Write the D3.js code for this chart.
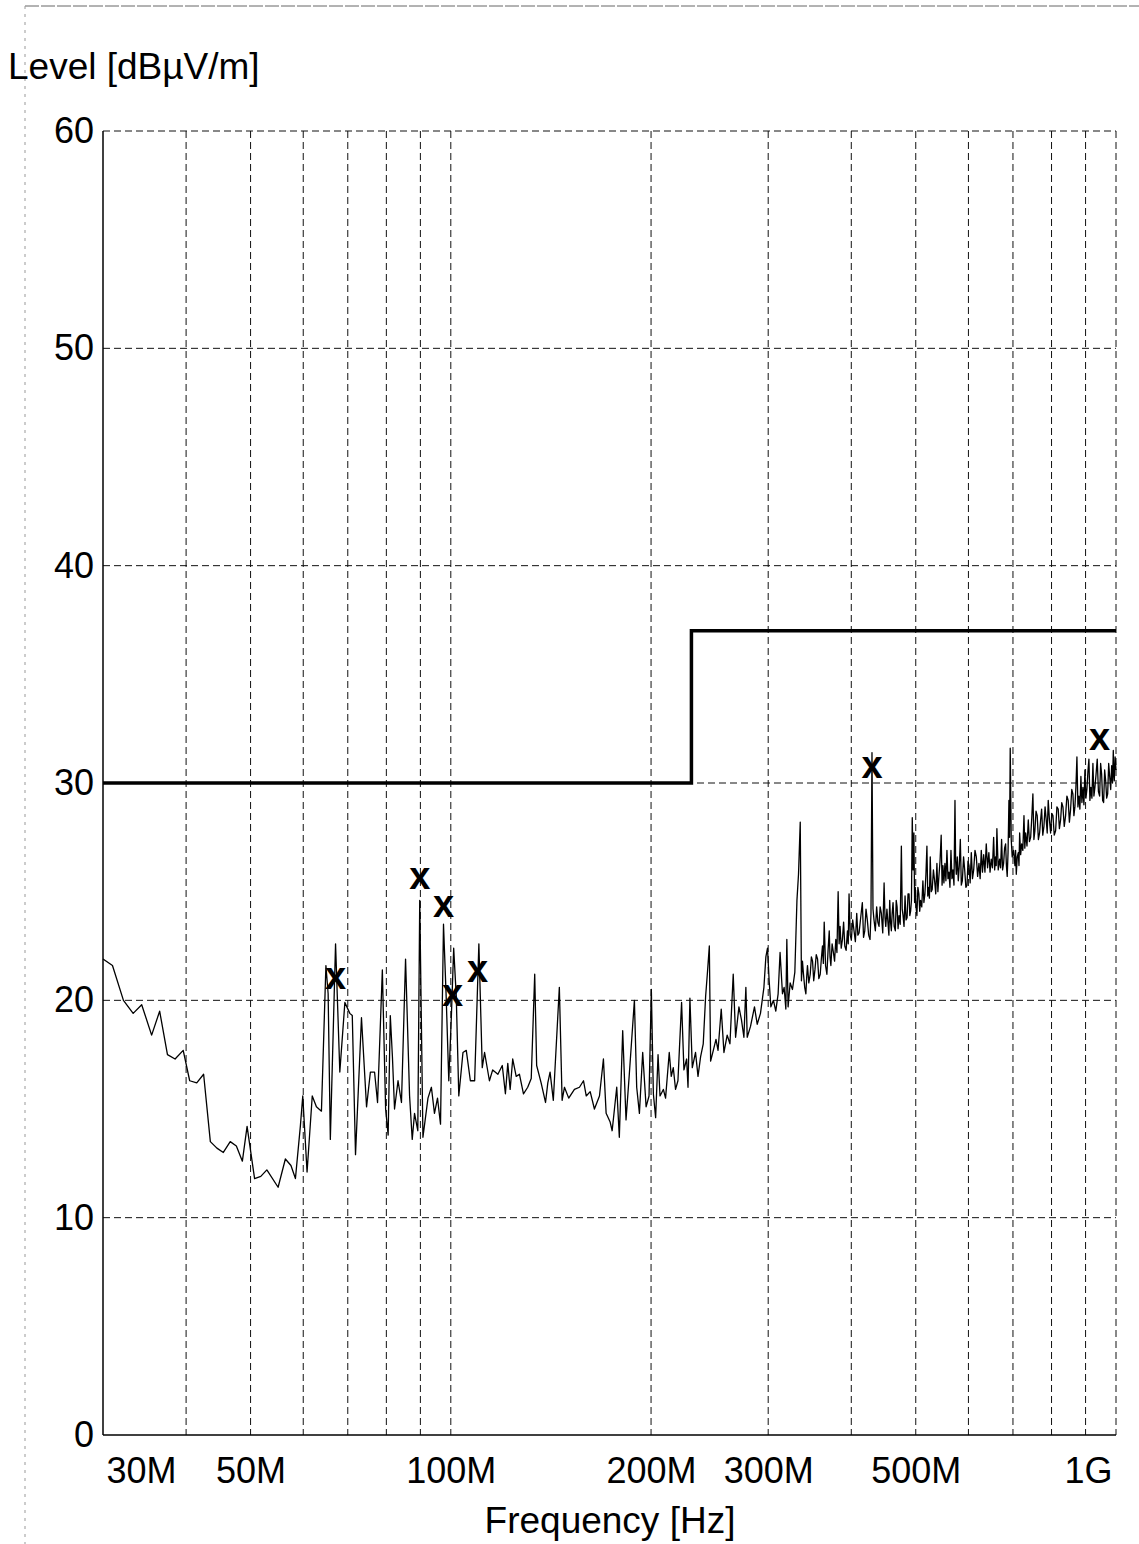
<!DOCTYPE html>
<html lang="en">
<head>
<meta charset="UTF-8">
<title>Level vs Frequency</title>
<script src="https://d3js.org/d3.v7.min.js"></script>
<style>
  body { margin: 0; background: #fff; }
  text { font-family: "Liberation Sans", Arial, Helvetica, sans-serif; fill: #000; }
  .grid line { stroke: #111; stroke-width: 1; stroke-dasharray: 7,4; }
</style>
</head>
<body>
<svg width="1139" height="1544"></svg>
<script>
const width = 1139, height = 1544;
const plot = {left: 103, right: 1116, top: 131, bottom: 1435};

// scan trace: [frequency in MHz, level in dBuV/m]
const scan30to120 = [
  [30,21.9],[31,21.6],[32.2,20.0],[33.3,19.4],[34.3,19.8],[35.5,18.4],[36.5,19.5],[37.5,17.5],[38.5,17.3],[39.6,17.7],
  [40.5,16.3],[41.5,16.2],[42.5,16.6],[43.5,13.5],[44.5,13.2],[45.5,13.0],[46.6,13.5],[47.6,13.3],[48.6,12.6],[49.4,14.2],
  [50.7,11.8],[51.8,11.9],[52.9,12.2],[55.0,11.4],[56.4,12.7],[57.5,12.4],[58.4,11.8],[59.4,14.2],[59.9,15.6],[60.8,12.1],
  [61.9,15.6],[62.8,15.1],[63.9,14.9],[64.9,21.6],[65.4,20.3],[65.9,13.6],[67.1,22.6],[68.1,16.7],[69.3,19.9],[70.5,19.4],
  [71.1,19.3],[71.9,12.9],[73.4,19.2],[74.7,15.1],[75.7,16.7],[76.8,16.7],[77.6,15.3],[78.9,21.4],[79.8,15.0],[80.5,13.8],
  [81.1,19.3],[81.7,17.4],[82.3,15.0],[83.3,16.3],[84.3,15.3],[85.5,21.9],[86.7,15.6],[87.5,13.6],[88.2,14.8],[89.2,14.0],
  [89.8,24.6],[90.8,13.7],[92.4,15.5],[93.5,16.0],[94.5,14.8],[95.5,15.5],[96.5,14.3],[97.5,23.5],[98.4,20.2],[99.3,16.3],
  [100.2,19.3],[101.0,22.4],[101.9,20.2],[102.8,15.6],[104.3,17.6],[105.5,17.7],[107.0,16.3],[108.6,16.3],[110.2,22.6],[111.5,16.9],
  [112.4,17.6],[114.3,16.3],[115.6,16.8],[117.7,16.6],[119.5,17.0]
];
const scan120to300 = [
  [120.8,15.7],[121.8,17.1],[122.8,15.9],[123.9,17.3],[125.4,16.5],[126.8,16.6],[128.6,15.7],[130.5,16.0],[132.1,16.4],[133.7,21.2],
  [134.6,17.0],[136.7,16.2],[138.8,15.3],[139.9,16.2],[141.0,16.7],[142.6,15.4],[145.6,20.6],[147.0,15.4],[148.2,16.0],[150.4,15.5],
  [153.4,15.9],[156.1,16.0],[158.3,16.3],[159.8,15.6],[162.0,15.8],[164.4,15.0],[167.3,15.6],[169.6,17.3],[171.2,14.8],[173.6,14.4],
  [174.8,14.0],[176.2,15.0],[177.6,16.0],[179.2,13.7],[181.3,18.6],[183.4,14.5],[185.5,16.6],[188.8,20.0],[190.3,16.0],[192.1,14.8],
  [194.3,17.6],[196.6,15.1],[198.6,15.6],[200.2,20.5],[201.6,15.7],[203.2,14.6],[204.9,17.5],[206.3,15.6],[208.7,15.9],[210.3,15.5],
  [213.0,17.6],[214.5,16.5],[216.0,16.9],[217.7,15.9],[219.5,16.3],[222.3,19.9],[224.1,16.8],[226.2,17.3],[227.3,16.0],[228.8,20.1],
  [230.7,16.9],[233.3,17.6],[235.3,16.5],[237.4,17.4],[239.6,18.0],[241.6,20.2],[243.0,21.2],[244.7,22.5],[245.8,17.2],[248.1,17.7],
  [250.4,18.2],[252.2,17.7],[255.0,19.6],[257.4,17.6],[260.3,18.4],[262.8,18.0],[265.8,21.2],[268.0,18.3],[271.1,19.7],[273.5,19.1],
  [275.8,18.3],[277.7,20.6],[279.0,18.3],[282.2,18.8],[286.1,19.7],[288.8,18.9],[292.1,19.4],[295.6,20.6],[297.6,22.0],[299.3,22.4]
];
const scan300to440 = [
  [301.0,20.9],[302.8,19.7],[305.5,20.0],[308.0,19.5],[310.5,20.3],[312.6,22.2],[315.2,20.3],[317.0,20.6],[318.9,19.6],[320.0,22.8],
  [321.4,19.7],[323.7,20.8],[326.3,20.5],[329.0,21.3],[331.4,24.6],[333.2,25.8],[335.2,28.2],[336.6,20.9],[337.8,21.8],[339.0,21.2],
  [340.4,20.6],[341.8,20.3],[342.8,21.1],[343.7,21.6],[345.3,20.8],[347.0,21.2],[348.4,22.0],[349.8,21.8],[351.2,20.9],[352.7,21.4],
  [354.3,22.1],[355.9,21.9],[357.5,21.0],[359.2,21.2],[360.6,21.9],[362.0,22.5],[363.1,21.7],[364.2,23.6],[365.9,21.6],[367.6,21.2],
  [369.1,22.3],[370.6,23.2],[371.6,22.0],[372.7,21.6],[374.3,22.6],[376.0,22.2],[377.5,21.8],[379.1,22.8],[380.6,22.2],[382.2,25.0],
  [383.5,22.6],[384.8,23.4],[386.3,22.4],[387.9,22.8],[389.5,23.6],[391.1,22.5],[392.9,22.3],[394.7,23.2],[395.8,22.6],[396.9,24.9],
  [398.5,23.0],[400.1,22.8],[401.9,23.7],[403.8,23.2],[405.7,22.7],[407.6,24.0],[409.2,23.0],[410.9,23.1],[413.2,23.8],[415.6,24.5],
  [417.3,22.9],[419.1,23.2],[420.9,24.2],[422.8,23.7],[424.8,23.0],[426.8,22.8],[428.2,24.0],[429.7,31.4],[431.2,24.2],[432.7,23.7],
  [434.7,23.2],[436.7,24.3],[438.5,23.6]
];
const scan440to700 = [
  [440.3,23.4],[442.0,24.3],[443.9,24.0],[446.0,23.1],[448.1,25.4],[449.5,23.8],[450.7,23.4],[452.5,24.2],[454.3,23.5],[455.6,23.0],
  [456.9,24.6],[458.2,23.6],[459.5,23.2],[460.8,24.0],[462.2,24.5],[464.0,23.4],[465.9,23.2],[467.3,24.6],[468.7,24.3],[470.3,23.3],
  [471.9,23.9],[473.8,23.5],[475.7,27.1],[477.1,24.2],[478.5,23.9],[480.1,23.4],[481.8,24.8],[483.5,23.7],[485.2,23.8],[486.8,24.9],
  [488.5,24.9],[489.8,23.9],[491.2,24.1],[492.6,24.6],[494.0,28.4],[495.4,26.0],[496.8,27.7],[498.0,24.5],[499.1,25.2],[500.5,24.3],
  [502.0,23.9],[503.7,25.2],[505.4,24.9],[506.9,24.1],[508.4,24.6],[510.5,24.3],[512.5,25.5],[514.3,24.5],[516.1,24.9],[517.9,25.8],
  [519.7,27.1],[521.2,24.8],[522.8,25.2],[524.2,24.7],[525.7,26.6],[527.5,25.0],[529.3,25.1],[531.5,26.0],[533.7,25.5],[535.8,24.9],
  [538.0,26.3],[539.8,25.0],[541.7,25.7],[543.8,26.4],[546.0,27.6],[547.7,25.3],[549.3,26.2],[551.2,25.4],[553.1,26.3],[555.0,25.5],
  [557.0,26.9],[559.0,25.6],[560.9,25.9],[562.8,25.2],[564.8,26.9],[566.7,25.6],[568.7,26.0],[570.7,25.3],[572.7,29.2],[574.0,26.4],
  [575.3,25.8],[577.3,26.6],[579.3,25.5],[581.3,26.2],[583.4,27.4],[585.4,25.3],[587.5,25.5],[590.0,26.6],[592.3,26.0],[594.7,25.2],
  [597.1,25.3],[599.1,26.4],[601.2,26.2],[603.6,25.4],[606.0,26.8],[608.5,25.6],[611.0,26.0],[613.8,26.9],[616.6,26.6],[619.4,25.7],
  [622.3,26.3],[624.8,25.6],[627.3,26.9],[629.9,25.9],[632.5,26.7],[635.3,25.9],[638.2,27.2],[641.1,26.1],[644.0,26.8],[646.6,25.9],
  [649.3,26.5],[652.0,26.1],[654.7,27.5],[657.0,26.0],[659.2,26.6],[660.6,26.2],[662.1,27.9],[665.2,26.0],[668.3,26.5],[670.6,26.1],
  [673.0,27.4],[675.3,26.0],[677.7,26.3],[680.0,27.0],[682.4,27.2],[684.3,26.2],[686.2,25.7],[688.2,26.8],[690.3,29.2],[691.8,27.5],
  [693.4,31.6],[695.8,27.4],[698.2,26.6],[701.5,26.9]
];
const scan700to1000 = [
  [704.8,26.2],[706.4,26.9],[708.1,25.8],[710.5,26.6],[713.0,26.8],[714.7,26.2],[716.4,27.7],[718.9,26.7],[721.4,27.2],[724.3,26.9],
  [727.2,28.5],[729.3,27.0],[731.5,27.7],[734.8,27.1],[738.1,28.3],[741.1,27.3],[744.2,27.5],[747.1,28.4],[750.0,29.5],[752.6,27.4],
  [755.2,27.8],[758.2,28.7],[761.3,28.5],[764.4,27.4],[767.6,27.7],[770.3,28.3],[773.0,28.8],[776.1,27.6],[779.2,28.0],[782.3,28.9],
  [785.4,28.3],[788.1,27.7],[790.9,29.2],[794.2,28.3],[797.5,27.7],[800.7,28.6],[803.9,28.5],[807.6,27.6],[811.4,27.8],[815.0,28.9],
  [818.7,28.8],[822.1,27.9],[825.5,28.3],[828.8,29.1],[832.2,28.9],[836.0,28.0],[839.9,28.5],[843.7,29.4],[847.5,29.2],[851.0,28.2],
  [854.6,28.8],[858.0,29.7],[861.4,29.5],[864.4,28.5],[867.4,28.9],[870.4,29.8],[873.5,31.2],[876.5,28.9],[879.5,29.4],[882.5,28.8],
  [885.6,30.3],[888.7,29.1],[891.8,29.8],[894.9,29.0],[898.0,30.6],[901.1,29.3],[904.2,29.7],[907.3,30.5],[910.5,31.1],[913.6,29.2],
  [916.8,29.8],[920.0,29.3],[923.2,30.9],[926.4,29.4],[929.6,29.8],[933.3,30.4],[937.1,31.1],[941.0,29.6],[944.9,29.4],[948.2,30.9],
  [951.5,30.4],[954.8,29.2],[958.1,29.1],[961.5,30.6],[964.9,30.1],[968.2,29.3],[971.6,29.5],[975.0,30.9],[978.4,30.3],[981.8,29.7],
  [985.2,30.8],[988.0,30.0],[990.7,31.5],[992.4,30.4],[994.1,30.1],[997.0,31.2],[1000,30.6]
];

// limit line
const limitMHz = [30, 230, 230, 1000];
const limitDb  = [30, 30, 37, 37];

// final measurement markers
const markerMHz = [67.1, 89.8, 97.5, 100.6, 109.7, 429.7, 944.9];
const markerDb  = [21.0, 25.6, 24.3, 20.2, 21.3, 30.7, 32.0];

const levelTicks = [0, 10, 20, 30, 40, 50, 60];
const gridMHz = [40, 50, 60, 70, 80, 90, 100, 200, 300, 400, 500, 600, 700, 800, 900, 1000];
const freqTicks = [30, 50, 100, 200, 300, 500, 1000];
const freqTickLabels = ["30M", "50M", "100M", "200M", "300M", "500M", "1G"];

const svg = d3.select("svg");

const x = d3.scaleLog().domain([30, 1000]).range([plot.left, plot.right]);
const y = d3.scaleLinear().domain([0, 60]).range([plot.bottom, plot.top]);

// faint scanner frame
svg.append("line").attr("x1", 25).attr("y1", 6).attr("x2", width).attr("y2", 6)
  .attr("stroke", "#666").attr("stroke-width", 1).attr("stroke-dasharray", "14,2");
svg.append("line").attr("x1", 25).attr("y1", 6).attr("x2", 25).attr("y2", height)
  .attr("stroke", "#999").attr("stroke-width", 1).attr("stroke-dasharray", "3,5");

// grid
const grid = svg.append("g").attr("class", "grid");
grid.selectAll(".h").data(levelTicks.filter(d => d > 0)).enter().append("line")
  .attr("x1", plot.left).attr("x2", plot.right)
  .attr("y1", d => y(d)).attr("y2", d => y(d));
grid.selectAll(".v").data(gridMHz).enter().append("line")
  .attr("x1", d => x(d)).attr("x2", d => x(d))
  .attr("y1", plot.top).attr("y2", plot.bottom);

// solid left and bottom axis lines
svg.append("line").attr("x1", plot.left).attr("x2", plot.left)
  .attr("y1", plot.top).attr("y2", plot.bottom).attr("stroke", "#000").attr("stroke-width", 1.5);
svg.append("line").attr("x1", plot.left).attr("x2", plot.right)
  .attr("y1", plot.bottom).attr("y2", plot.bottom).attr("stroke", "#000").attr("stroke-width", 1.5);

// axes labels
const yAxis = svg.append("g")
  .attr("transform", `translate(${plot.left},0)`)
  .call(d3.axisLeft(y).tickValues(levelTicks).tickSize(0).tickPadding(9));
yAxis.select(".domain").remove();
yAxis.selectAll("text").style("font-size", "36px")
  .style("font-family", '"Liberation Sans", Arial, sans-serif');

const xAxis = svg.append("g")
  .attr("transform", `translate(0,${plot.bottom})`)
  .call(d3.axisBottom(x).tickValues(freqTicks)
    .tickFormat((d, i) => freqTickLabels[i]).tickSize(0).tickPadding(22));
xAxis.select(".domain").remove();
xAxis.selectAll("text").style("font-size", "36px")
  .style("font-family", '"Liberation Sans", Arial, sans-serif')
  .attr("text-anchor", (d, i) => i === 0 ? "start" : (i === freqTicks.length - 1 ? "end" : "middle"))
  .attr("dx", (d, i) => i === 0 ? 3 : (i === freqTicks.length - 1 ? -4 : 0));

// limit line
const limitPts = limitMHz.map((f, i) => [f, limitDb[i]]);
const line = d3.line().x(d => x(d[0])).y(d => y(d[1]));
svg.append("path").datum(limitPts).attr("d", line)
  .attr("fill", "none").attr("stroke", "#000").attr("stroke-width", 3.5);

// scan trace
const scan = scan30to120.concat(scan120to300, scan300to440, scan440to700, scan700to1000);
svg.append("path").datum(scan).attr("d", line)
  .attr("fill", "none").attr("stroke", "#000").attr("stroke-width", 1.3)
  .attr("stroke-linejoin", "round");

// markers
svg.selectAll(".marker").data(markerMHz).enter().append("text")
  .attr("class", "marker")
  .attr("x", d => x(d)).attr("y", (d, i) => y(markerDb[i]) + 10)
  .attr("text-anchor", "middle")
  .style("font-size", "38px").style("font-weight", "bold")
  .text("x");

// titles
svg.append("text").attr("x", 8).attr("y", 79).style("font-size", "37px").text("Level [dBµV/m]");
svg.append("text").attr("x", 610).attr("y", 1533).attr("text-anchor", "middle")
  .style("font-size", "37px").text("Frequency [Hz]");
</script>
</body>
</html>
